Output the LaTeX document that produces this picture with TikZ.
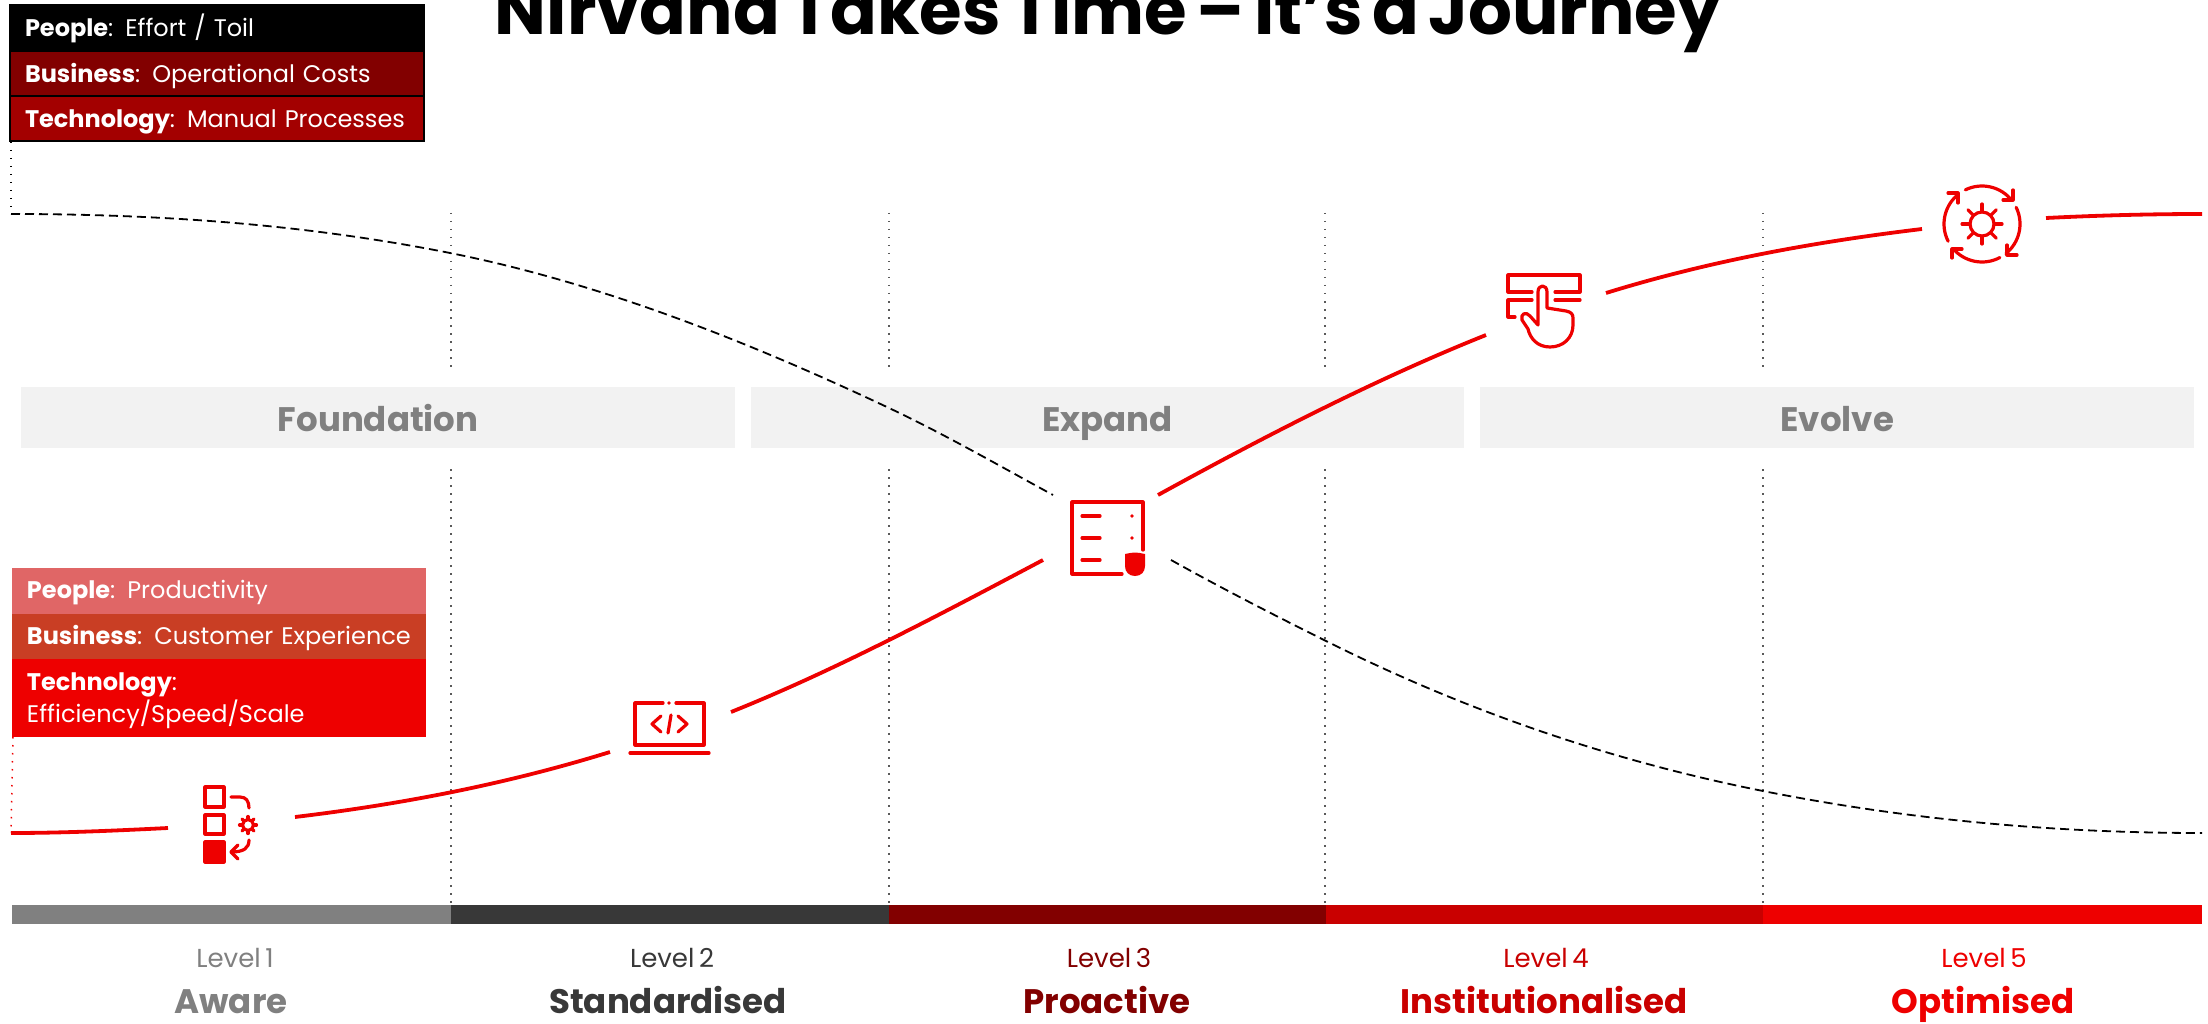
\documentclass[tikz,border=0pt]{standalone}
\usepackage{fontspec}
\setmainfont{Poppins}[WordSpace=0.65]
\usetikzlibrary{calc,positioning}
\definecolor{rhred}{HTML}{EE0000}
\definecolor{rhdark}{HTML}{820000}
\definecolor{rhmid}{HTML}{A30000}
\definecolor{rhinst}{HTML}{C90000}
\definecolor{rhgrey}{HTML}{808080}
\definecolor{rhcoal}{HTML}{383838}
\definecolor{rhsoft}{HTML}{E06666}
\definecolor{rhrust}{HTML}{C93E24}
\newcommand{\rowtxt}[2]{\mbox{\textbf{#1}: #2}}

\begin{document}
\begin{tikzpicture}[x=1pt, y=-1pt,
			row/.style = {anchor=north west, minimum width=414, minimum height=45, inner xsep=15, inner ysep=0pt, outer sep=0pt,
					text width=384, align=left, text=white, text height=18, text depth=3, font=\fontsize{24}{32}\selectfont},
			costrow/.style = {row, draw=black, line width=1.2pt, text height=19.5, text depth=1.5},
			band/.style = {anchor=north west, fill=black!5, minimum width=714, minimum height=61, inner sep=0pt,
					text=rhgrey, text height=28, text depth=1, font=\fontsize{34}{38}\selectfont\bfseries},
			levelbar/.style = {anchor=north west, minimum height=19, inner sep=0pt, outer sep=0pt},
			leveltxt/.style = {anchor=base, font=\fontsize{26}{30}\selectfont},
			levelname/.style = {anchor=base, font=\fontsize{34}{38}\selectfont\bfseries},
			griddots/.style = {black!65, line width=1.5pt, dash pattern=on 1.5pt off 6.5pt},
			redline/.style = {rhred, line width=3.8pt},
			costline/.style = {black, line width=1.8pt, dash pattern=on 9pt off 5pt},
			iconline/.style = {rhred, line width=3.2pt, line cap=round, line join=round}
		]
		\useasboundingbox (0,0) rectangle (2208,1024);

		\node [anchor=base, font=\fontsize{69}{80}\selectfont\bfseries] (title) at (1108,35) {Nirvana Takes Time – It's a Journey};

		\node [band, minimum width=714] (found) at (21,387) {Foundation};
		\node [band, minimum width=713] (expand) at (751,387) {Expand};
		\node [band, minimum width=714] (evolve) at (1480,387) {Evolve};

		\foreach \x in {451,889,1325,1763} {
			\draw [griddots] (\x,213) -- (\x,368);
			\draw [griddots] (\x,469) -- (\x,905);
		}

		\node [costrow, fill=black, minimum height=46] (cost1) at (10,5) {\rowtxt{People}{Effort / Toil}};
		\node [costrow, fill=rhdark, below=0pt of cost1.south west, anchor=north west] (cost2) {\rowtxt{Business}{Operational Costs}};
		\node [costrow, fill=rhmid, below=0pt of cost2.south west, anchor=north west] (cost3) {\rowtxt{Technology}{Manual Processes}};

		\node [row, fill=rhsoft, minimum height=46] (gain1) at (12,568) {\rowtxt{People}{Productivity}};
		\node [row, fill=rhrust, minimum height=45, below=0pt of gain1.south west, anchor=north west] (gain2) {\rowtxt{Business}{Customer Experience}};
		\node [row, fill=rhred, minimum height=78, text height=17, text depth=33, below=0pt of gain2.south west, anchor=north west] (gain3) {\textbf{Technology}:\\Efficiency/Speed/Scale};

		\node [levelbar, fill=rhgrey, minimum width=439] (bar1) at (12,905) {};
		\node [levelbar, fill=rhcoal, minimum width=438] (bar2) at (451,905) {};
		\node [levelbar, fill=rhdark, minimum width=437] (bar3) at (889,905) {};
		\node [levelbar, fill=rhinst, minimum width=437] (bar4) at (1326,905) {};
		\node [levelbar, fill=rhred, minimum width=439] (bar5) at (1763,905) {};

		\node [leveltxt, text=rhgrey] (lvl1) at (235,967) {Level 1};
		\node [leveltxt, text=rhcoal] (lvl2) at (672,967) {Level 2};
		\node [leveltxt, text=rhdark] (lvl3) at (1109,967) {Level 3};
		\node [leveltxt, text=rhinst] (lvl4) at (1546,967) {Level 4};
		\node [leveltxt, text=rhred] (lvl5) at (1984,967) {Level 5};
		\node [levelname, text=rhgrey] (name1) at (231,1013) {Aware};
		\node [levelname, text=rhcoal] (name2) at (668,1013) {Standardised};
		\node [levelname, text=rhdark] (name3) at (1107,1013) {Proactive};
		\node [levelname, text=rhinst] (name4) at (1544,1013) {Institutionalised};
		\node [levelname, text=rhred] (name5) at (1983,1013) {Optimised};

		\coordinate (c0) at (11,142);
		\coordinate (c1) at (11,214);
		\coordinate (c2) at (450,253);
		\coordinate (c3) at (889,408);
		\coordinate (c4) at (1053,495);
		\coordinate (c5) at (1171,560);
		\coordinate (c6) at (1326,641);
		\coordinate (c7) at (1763,791);
		\coordinate (c8) at (2202,833);
		\draw [griddots, black] (c0) -- (c1);
		\draw [costline] (c1) .. controls +(146,0) and +(-146,-29) .. (c2) .. controls +(146,29) and +(-146,-69) .. (c3) .. controls +(55,26) and +(-55,-30) .. (c4);
		\draw [costline] (c5) .. controls +(52,29) and +(-52,-26) .. (c6) .. controls +(146,73) and +(-146,-29) .. (c7) .. controls +(146,29) and +(-146,0) .. (c8);

		\coordinate (r0) at (13,737);
		\coordinate (r1) at (11,833);
		\coordinate (r2) at (168,828);
		\coordinate (r3) at (295,817);
		\coordinate (r5) at (610,752);
		\coordinate (r6) at (731,712);
		\coordinate (r8) at (1043,560);
		\coordinate (r9) at (1158,495);
		\coordinate (r11) at (1486,335);
		\coordinate (r12) at (1606,293);
		\coordinate (r14) at (1922,229);
		\coordinate (r15) at (2046,218);
		\coordinate (r16) at (2202,214);
		\draw [griddots, rhred] (r0) -- (r1);
		\draw [redline] (r1) .. controls +(52,0) and +(-52,2.6) .. (r2);
		\draw [redline] (r3) .. controls +(105,-12.6) and +(-105,32.5) .. (r5);
		\draw [redline] (r6) .. controls +(104,-41.6) and +(-104,55) .. (r8);
		\draw [redline] (r9) .. controls +(109,-60) and +(-109,43.6) .. (r11);
		\draw [redline] (r12) .. controls +(105,-32.5) and +(-105,12.6) .. (r14);
		\draw [redline] (r15) .. controls +(52,-2.6) and +(-52,0) .. (r16);

		% checklist icon
		\draw [iconline] (205,787) rectangle (224,807);
		\draw [iconline] (205,815) rectangle (224,834);
		\draw [iconline, fill=rhred] (205,842) rectangle (224,862);
		\draw [iconline] (231,797) -- (240,797) .. controls (246,797) and (249,801) .. (249,808);
		\draw [iconline] (249,840) .. controls (249,848) and (244,852) .. (231,852);
		\draw [iconline] (238,845) -- (231,852) -- (238,859);
		\coordinate (gear1) at (248,825);
		\draw [iconline] (gear1) circle [radius=5.5pt];
		\foreach \a in {0,45,...,315} {
			\draw [iconline] ([shift={(\a:6pt)}]gear1) -- ([shift={(\a:8.5pt)}]gear1);
		}

		% laptop icon
		\draw [iconline] (663,703) -- (635,703) -- (635,745) -- (704,745) -- (704,703) -- (676,703);
		\fill [rhred] (669,703) circle [radius=1.8pt];
		\draw [iconline] (630,753) -- (709,753);
		\draw [iconline] (661,716) -- (652,724) -- (661,732);
		\draw [iconline] (678,716) -- (687,724) -- (678,732);
		\draw [iconline] (671,715) -- (668,733);

		% document icon
		\draw [iconline] (1143,550) -- (1143,502) -- (1072,502) -- (1072,574) -- (1122,574);
		\foreach \y in {516,538,560} {
			\draw [iconline] (1082,\y) -- (1100,\y);
		}
		\fill [rhred] (1132,516) circle [radius=1.8pt];
		\fill [rhred] (1132,538) circle [radius=1.8pt];
		\fill [rhred] (1125,554) .. controls (1135,552) .. (1145,554) -- (1145,566) .. controls (1145,572) and (1141,576) .. (1135,576) .. controls (1129,576) and (1125,572) .. (1125,566) -- cycle;

		% touch icon
		\draw [iconline] (1532,292) -- (1508,292) -- (1508,275) -- (1580,275) -- (1580,292) -- (1555,292);
		\draw [iconline] (1532,300) -- (1508,300) -- (1508,317) -- (1515,317);
		\draw [iconline] (1555,300) -- (1580,300);
		\draw [iconline] (1538,325) -- (1538,292) .. controls (1538,284) and (1547,284) .. (1547,292) -- (1547,308) -- (1566,311) .. controls (1571,312) and (1573,314) .. (1573,318) -- (1573,325) .. controls (1573,338) and (1563,347) .. (1550,347) .. controls (1537,347) and (1530,338) .. (1528,329) -- (1522,320) .. controls (1520,314) and (1526,311) .. (1530,316) -- cycle;

		% cycle icon
		\coordinate (gear2) at (1982,224);
		\draw [iconline] ([shift={(116:38pt)}]gear2) arc [start angle=116, end angle=38, radius=38pt];
		\draw [iconline] ([shift={(26:38pt)}]gear2) arc [start angle=26, end angle=-51, radius=38pt];
		\draw [iconline] ([shift={(-62:38pt)}]gear2) arc [start angle=-62, end angle=-140, radius=38pt];
		\draw [iconline] ([shift={(-153:38pt)}]gear2) arc [start angle=-153, end angle=-232, radius=38pt];
		\draw [iconline] (2013,190) -- (2013,200) -- (2003,200);
		\draw [iconline] (2017,255) -- (2007,255) -- (2007,245);
		\draw [iconline] (1962,249) -- (1952,249) -- (1952,258);
		\draw [iconline] (1948,193) -- (1958,193) -- (1958,203);
		\draw [iconline] (gear2) circle [radius=12pt];
		\foreach \a in {0,45,...,315} {
			\draw [iconline] ([shift={(\a:13pt)}]gear2) -- ([shift={(\a:20pt)}]gear2);
		}
	\end{tikzpicture}
\end{document}
